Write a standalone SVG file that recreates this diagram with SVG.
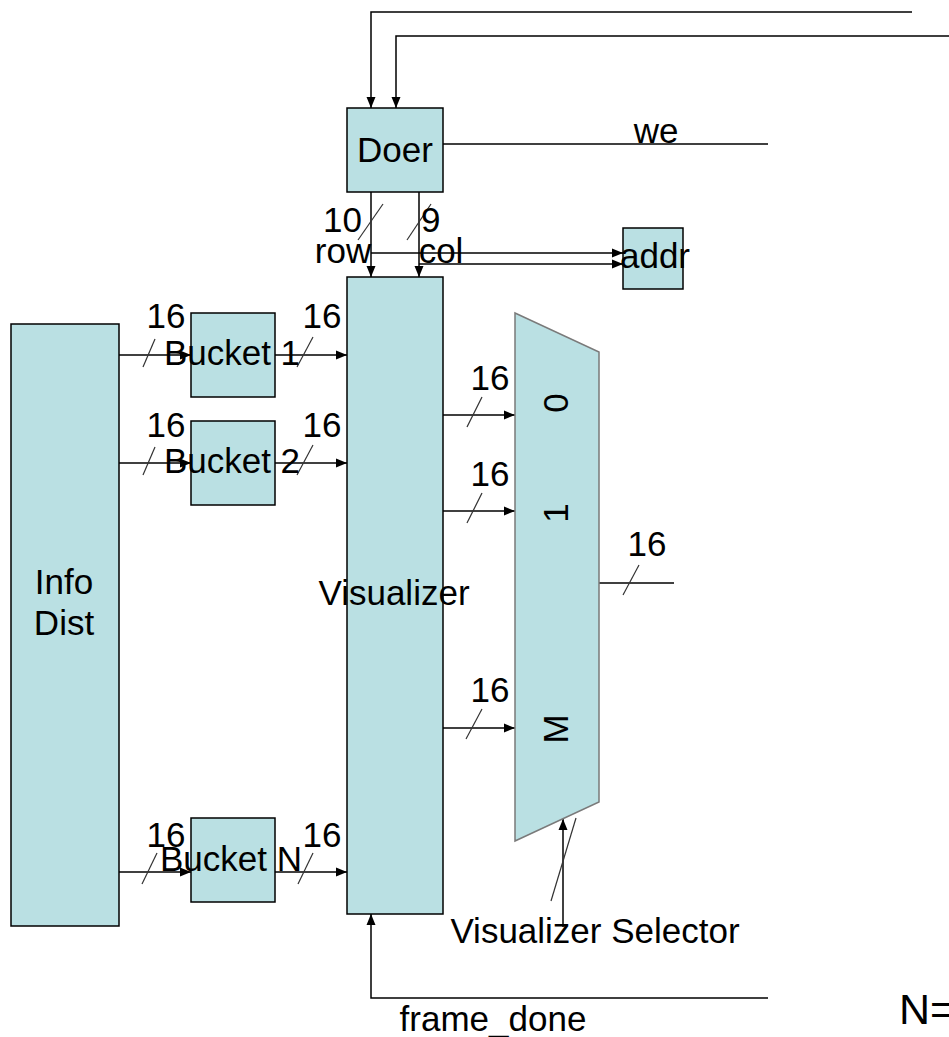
<svg xmlns="http://www.w3.org/2000/svg" width="949" height="1037" viewBox="0 0 949 1037">
<defs>
<marker id="ah" markerUnits="userSpaceOnUse" markerWidth="12" markerHeight="10" refX="11" refY="5" orient="auto">
<path d="M0,0.5 L11,5 L0,9.5 z" fill="#000"/>
</marker>
<style>
.box{fill:#bae0e3;stroke:#000;stroke-width:1.5}
.mux{fill:#bae0e3;stroke:#7a7a7a;stroke-width:1.5}
.w{fill:none;stroke:#000;stroke-width:1.5}
.wa{fill:none;stroke:#000;stroke-width:1.5;marker-end:url(#ah)}
.sl{stroke:#333;stroke-width:1.2}
text{font-family:"Liberation Sans",Arial,sans-serif;font-size:35px;fill:#000}
.c{text-anchor:middle}
</style>
</defs>
<rect width="949" height="1037" fill="#fff"/>
<g id="connectors">
<path class="wa" d="M912,12 H371 V108"/>
<path class="wa" d="M949,36 H396 V108"/>
<path class="w" d="M443,144 H768"/>
<path class="wa" d="M371,192 V277"/>
<path class="wa" d="M419,192 V277"/>
<path class="wa" d="M371,253 H623"/>
<path class="wa" d="M419,264 H623"/>
<path class="wa" d="M119,355 H191"/>
<path class="wa" d="M275,355 H347"/>
<path class="wa" d="M119,463 H191"/>
<path class="wa" d="M275,463 H347"/>
<path class="wa" d="M119,872 H191"/>
<path class="wa" d="M275,872 H347"/>
<path class="wa" d="M443,415 H515"/>
<path class="wa" d="M443,511 H515"/>
<path class="wa" d="M443,728 H515"/>
<path class="w" d="M599,583 H674"/>
<path class="wa" d="M563,927 V819"/>
<path class="wa" d="M768,998 H371 V914"/>
<g id="slashes">
<line class="sl" x1="358" y1="240" x2="383" y2="204"/>
<line class="sl" x1="407" y1="240" x2="431" y2="204"/>
<line class="sl" x1="143" y1="367" x2="155" y2="339"/>
<line class="sl" x1="297" y1="367" x2="313" y2="337"/>
<line class="sl" x1="143" y1="475" x2="155" y2="447"/>
<line class="sl" x1="297" y1="475" x2="313" y2="445"/>
<line class="sl" x1="142" y1="884" x2="157" y2="853"/>
<line class="sl" x1="298" y1="884" x2="313" y2="853"/>
<line class="sl" x1="467" y1="427" x2="482" y2="397"/>
<line class="sl" x1="467" y1="523" x2="482" y2="493"/>
<line class="sl" x1="466" y1="739" x2="482" y2="709"/>
<line class="sl" x1="623" y1="595" x2="639" y2="565"/>
<line class="sl" x1="551" y1="901" x2="576" y2="818"/>
</g>
</g>
<g id="doer">
<rect class="box" x="347" y="108" width="96" height="84"/>
<text class="c" x="395" y="162">Doer</text>
</g>
<g id="addr">
<rect class="box" x="623" y="228" width="60" height="61"/>
<text class="c" x="655" y="268">addr</text>
</g>
<g id="info-dist">
<rect class="box" x="11" y="324" width="108" height="602"/>
<text class="c" x="64" y="594">Info</text>
<text class="c" x="64" y="635">Dist</text>
</g>
<g id="bucket1">
<rect class="box" x="191" y="313" width="84" height="84"/>
<text class="c" x="232" y="365">Bucket 1</text>
</g>
<g id="bucket2">
<rect class="box" x="191" y="421" width="84" height="84"/>
<text class="c" x="232" y="473">Bucket 2</text>
</g>
<g id="bucketN">
<rect class="box" x="191" y="818" width="84" height="84"/>
<text class="c" x="231" y="871">Bucket N</text>
</g>
<g id="visualizer">
<rect class="box" x="347" y="277" width="96" height="637"/>
<text class="c" x="394" y="605">Visualizer</text>
</g>
<g id="mux">
<polygon class="mux" points="515,313 599,352 599,802 515,841"/>
<text class="c" transform="translate(556,403) rotate(-90)" y="12">0</text>
<text class="c" transform="translate(556,513) rotate(-90)" y="12">1</text>
<text class="c" transform="translate(556,729) rotate(-90)" y="12">M</text>
</g>
<g id="labels">
<text class="c" x="656" y="143">we</text>
<text x="362" y="232" text-anchor="end">10</text>
<text x="421" y="232">9</text>
<text class="c" x="343" y="263">row</text>
<text class="c" x="441" y="263">col</text>
<text class="c" x="166" y="328">16</text>
<text class="c" x="322" y="328">16</text>
<text class="c" x="166" y="437">16</text>
<text class="c" x="322" y="437">16</text>
<text class="c" x="166" y="847">16</text>
<text class="c" x="322" y="847">16</text>
<text class="c" x="490" y="390">16</text>
<text class="c" x="490" y="486">16</text>
<text class="c" x="490" y="702">16</text>
<text class="c" x="647" y="556">16</text>
<text class="c" x="595" y="943">Visualizer Selector</text>
<text class="c" x="493" y="1031">frame_done</text>
<text x="899" y="1024" style="font-size:43px">N=</text>
</g>
</svg>
